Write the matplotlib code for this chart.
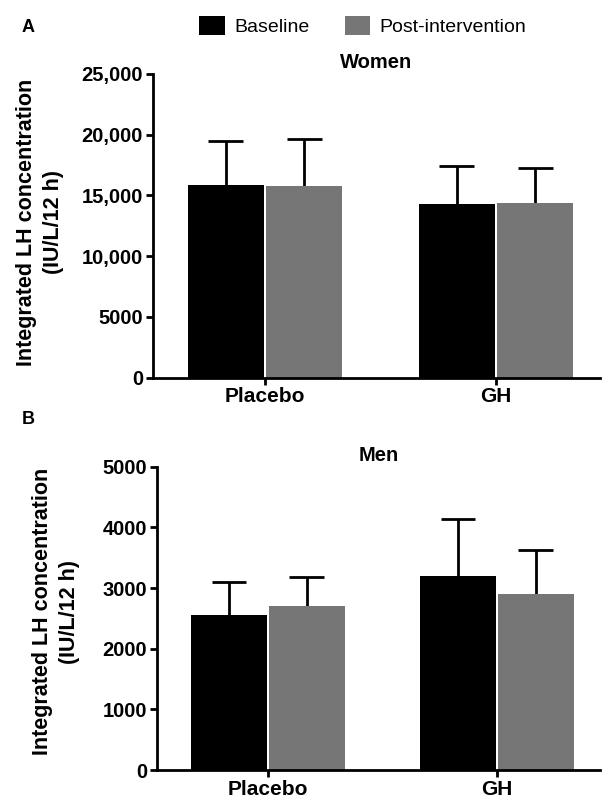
import numpy as np
import matplotlib
matplotlib.use("Agg")
import matplotlib.pyplot as plt
from matplotlib.patches import Patch

plt.rcParams['font.family'] = ['Liberation Sans', 'DejaVu Sans']

groups = ["Placebo", "GH"]
series_names = ["Baseline", "Post-intervention"]
colors = ["#000000", "#767676"]

women_baseline = [15900, 14300]
women_post = [15750, 14400]
women_baseline_err = [3550, 3130]
women_post_err = [3870, 2890]

men_baseline = [2560, 3200]
men_post = [2710, 2905]
men_baseline_err = [535, 940]
men_post_err = [480, 715]

women_ticks = [0, 5000, 10000, 15000, 20000, 25000]
women_ticklabels = ["0", "5000", "10,000", "15,000", "20,000", "25,000"]
men_ticks = [0, 1000, 2000, 3000, 4000, 5000]
men_ticklabels = ["0", "1000", "2000", "3000", "4000", "5000"]

ylabel = "Integrated LH concentration\n(IU/L/12 h)"

fig = plt.figure(figsize=(6.08, 8.0), dpi=100)
ax1 = fig.add_axes([0.2512, 0.528, 0.7356, 0.3795])
ax2 = fig.add_axes([0.2577, 0.0375, 0.7291, 0.3791])


def draw_panel(ax, base, post, base_err, post_err, ticks, ticklabels, title):
    x = np.arange(len(groups))
    w = 0.33
    off = 0.17
    cap = 0.076
    for xs, vals, errs, c in [(x - off, base, base_err, colors[0]),
                              (x + off, post, post_err, colors[1])]:
        vals = np.array(vals)
        errs = np.array(errs)
        ax.bar(xs, vals, width=w, color=c, edgecolor="none", zorder=2)
        # upper-only error bars (no lower cap)
        ax.vlines(xs, vals, vals + errs, color="black", linewidth=2, zorder=1)
        ax.hlines(vals + errs, xs - cap, xs + cap, color="black", linewidth=2, zorder=1)
    ax.set_xlim(-0.486, 1.45)
    ax.set_ylim(ticks[0], ticks[-1])
    ax.set_yticks(ticks)
    ax.set_yticklabels(ticklabels, fontweight="bold", fontsize=14.5)
    ax.set_xticks(x)
    ax.set_xticklabels(groups, fontweight="bold", fontsize=15)
    for s in ["top", "right"]:
        ax.spines[s].set_visible(False)
    for s in ["left", "bottom"]:
        ax.spines[s].set_linewidth(2)
    ax.tick_params(axis="both", width=2, length=5, pad=2)
    ax.set_title(title, fontweight="bold", fontsize=14.5, pad=4)


draw_panel(ax1, women_baseline, women_post, women_baseline_err, women_post_err,
           women_ticks, women_ticklabels, "Women")
draw_panel(ax2, men_baseline, men_post, men_baseline_err, men_post_err,
           men_ticks, men_ticklabels, "Men")

fig.text(0.066, 0.7225, ylabel, rotation=90, ha="center", va="center",
         fontweight="bold", fontsize=15.5, linespacing=1.35, multialignment="center")
fig.text(0.092, 0.2354, ylabel, rotation=90, ha="center", va="center",
         fontweight="bold", fontsize=15.5, linespacing=1.35, multialignment="center")

fig.text(0.035, 0.965, "A", fontweight="bold", fontsize=13, ha="left", va="center")
fig.text(0.035, 0.476, "B", fontweight="bold", fontsize=13, ha="left", va="center")

handles = [Patch(facecolor=c, edgecolor="none") for c in colors]
fig.legend(handles, series_names, loc="center", bbox_to_anchor=(0.597, 0.967),
           ncol=2, frameon=False, fontsize=14, handlelength=1.3, handleheight=1.1,
           handletextpad=0.5, columnspacing=1.8)

fig.savefig("out.png", dpi=100)
